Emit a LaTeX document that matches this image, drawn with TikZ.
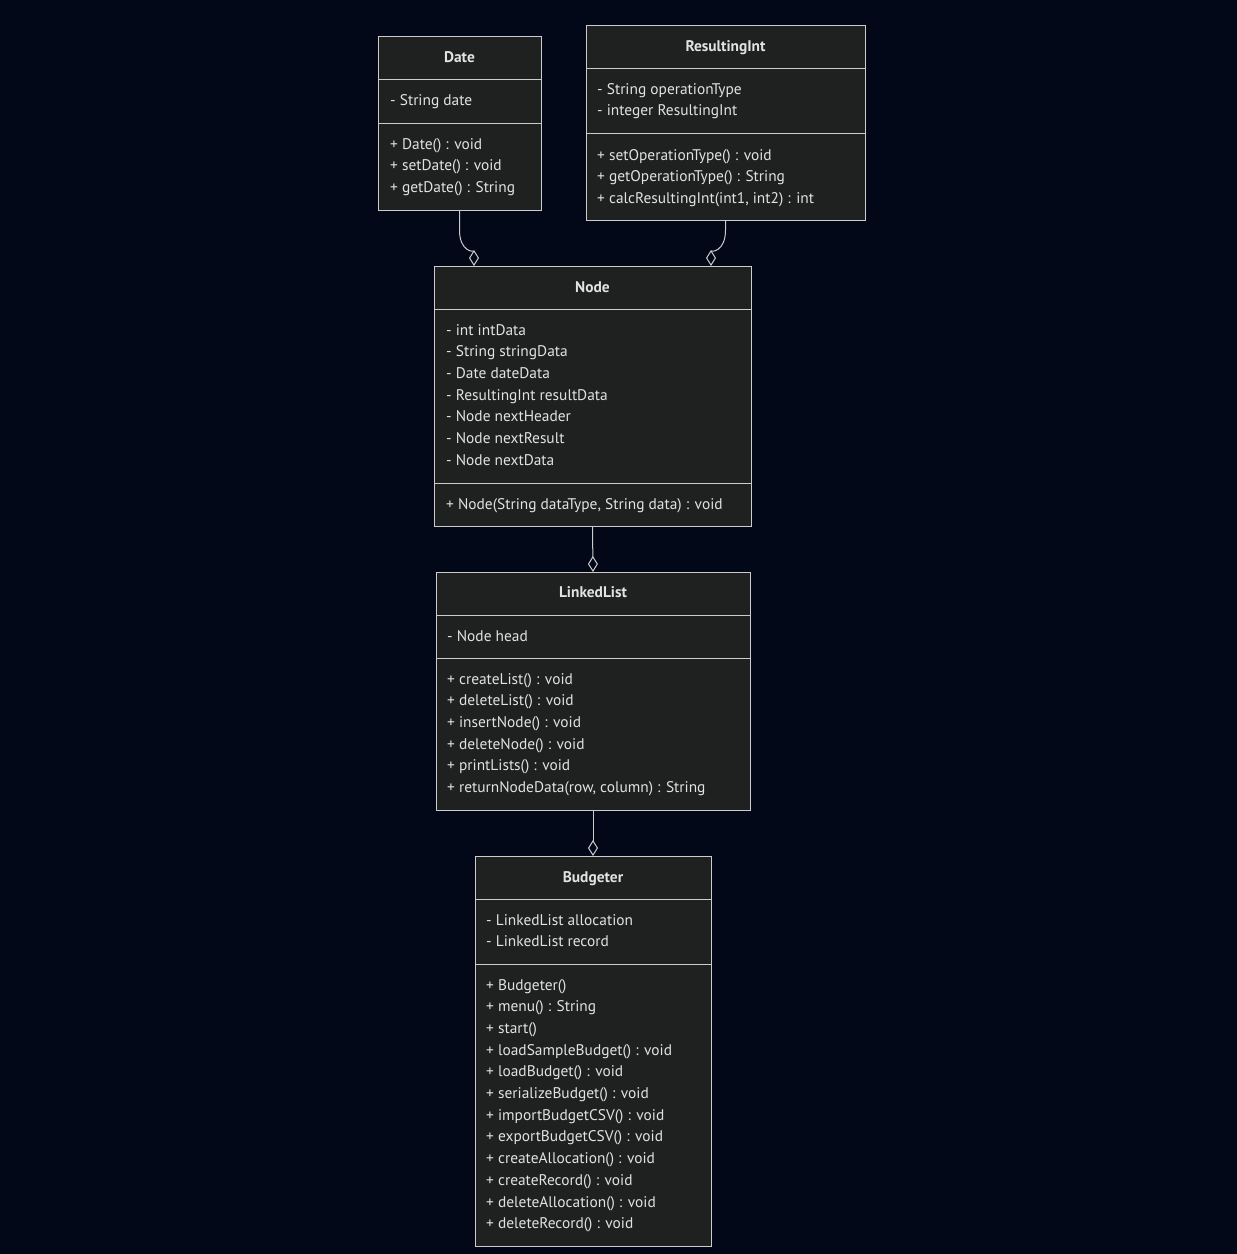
\documentclass[tikz,border=0pt]{standalone}
\usepackage{fontspec}
\setmainfont{PT Sans}
\usetikzlibrary{arrows.meta,calc}
\definecolor{bgc}{RGB}{2,8,23}
\definecolor{boxc}{RGB}{31,32,32}
\definecolor{linec}{RGB}{204,204,204}
\definecolor{txtc}{RGB}{226,226,226}
\tikzset{
  classbox/.style={draw=linec, fill=boxc, line width=1pt, inner sep=0pt, outer sep=0pt, anchor=north west},
  divline/.style={draw=linec, line width=1pt},
  rowtext/.style={anchor=mid west, inner sep=0pt, yshift=-2.5pt, text=txtc, font=\fontsize{15.4}{18}\selectfont},
  titletext/.style={anchor=mid, inner sep=0pt, yshift=-2.5pt, text=txtc, font=\fontsize{15.4}{18}\selectfont\bfseries},
  aggr/.style={draw=linec, line width=1pt, -{Diamond[open, length=16pt, width=10pt, line width=1pt]}}
}
\begin{document}
\begin{tikzpicture}[x=1pt,y=-1pt]
\useasboundingbox (0,0) rectangle (1237,1254);
\fill[bgc] (0,0) rectangle (1237,1254);

% Date
\node[classbox, minimum width=163pt, minimum height=174pt] (date) at (378,36) {};
\draw[divline] (378,79) -- (541,79);
\draw[divline] (378,123) -- (541,123);
\node[titletext] (dateT) at (459.5,57) {Date};
\foreach \t [count=\i] in {{- String date}}
  \node[rowtext] (dateA\i) at (390,{100+21.7*(\i-1)}) {\t};
\foreach \t [count=\i] in {{+ Date() : void},{+ setDate() : void},{+ getDate() : String}}
  \node[rowtext] (dateM\i) at (390,{144+21.7*(\i-1)}) {\t};

% ResultingInt
\node[classbox, minimum width=279pt, minimum height=195pt] (resint) at (586,25) {};
\draw[divline] (586,68) -- (865,68);
\draw[divline] (586,133) -- (865,133);
\node[titletext] (resintT) at (725.5,46) {ResultingInt};
\foreach \t [count=\i] in {{- String operationType},{- integer ResultingInt}}
  \node[rowtext] (resintA\i) at (597,{89+21.7*(\i-1)}) {\t};
\foreach \t [count=\i] in {{+ setOperationType() : void},{+ getOperationType() : String},{+ calcResultingInt(int1, int2) : int}}
  \node[rowtext] (resintM\i) at (597,{155+21.7*(\i-1)}) {\t};

% Node
\node[classbox, minimum width=317pt, minimum height=260pt] (nodec) at (434,266) {};
\draw[divline] (434,309) -- (751,309);
\draw[divline] (434,483) -- (751,483);
\node[titletext] (nodecT) at (592.5,287) {Node};
\foreach \t [count=\i] in {{- int intData},{- String stringData},{- Date dateData},{- ResultingInt resultData},{- Node nextHeader},{- Node nextResult},{- Node nextData}}
  \node[rowtext] (nodecA\i) at (446,{330+21.7*(\i-1)}) {\t};
\foreach \t [count=\i] in {{+ Node(String dataType, String data) : void}}
  \node[rowtext] (nodecM\i) at (446,{504+21.7*(\i-1)}) {\t};

% LinkedList
\node[classbox, minimum width=314pt, minimum height=238pt] (llist) at (436,572) {};
\draw[divline] (436,615) -- (750,615);
\draw[divline] (436,658) -- (750,658);
\node[titletext] (llistT) at (593,592) {LinkedList};
\foreach \t [count=\i] in {{- Node head}}
  \node[rowtext] (llistA\i) at (447,{636+21.7*(\i-1)}) {\t};
\foreach \t [count=\i] in {{+ createList() : void},{+ deleteList() : void},{+ insertNode() : void},{+ deleteNode() : void},{+ printLists() : void},{+ returnNodeData(row, column) : String}}
  \node[rowtext] (llistM\i) at (447,{679+21.7*(\i-1)}) {\t};

% Budgeter
\node[classbox, minimum width=236pt, minimum height=390pt] (budg) at (475,856) {};
\draw[divline] (475,899) -- (711,899);
\draw[divline] (475,964) -- (711,964);
\node[titletext] (budgT) at (593,877) {Budgeter};
\foreach \t [count=\i] in {{- LinkedList allocation},{- LinkedList record}}
  \node[rowtext] (budgA\i) at (486,{920+21.7*(\i-1)}) {\t};
\foreach \t [count=\i] in {{+ Budgeter()},{+ menu() : String},{+ start()},{+ loadSampleBudget() : void},{+ loadBudget() : void},{+ serializeBudget() : void},{+ importBudgetCSV() : void},{+ exportBudgetCSV() : void},{+ createAllocation() : void},{+ createRecord() : void},{+ deleteAllocation() : void},{+ deleteRecord() : void}}
  \node[rowtext] (budgM\i) at (486,{985+21.7*(\i-1)}) {\t};

% connectors
\coordinate (dA) at ($(nodec.north west)+(40,0)$);
\coordinate (rA) at ($(nodec.north west)+(277,0)$);
\draw[aggr] (date.south) -- ++(0,20) .. controls ++(0,22) and ($(dA)+(0,-14)$) .. (dA);
\draw[aggr] (resint.south) -- ++(0,10) .. controls ++(0,22) and ($(rA)+(0,-14)$) .. (rA);
\draw[aggr] (nodec.south) -- (llist.north);
\draw[aggr] (llist.south) -- (budg.north);
\end{tikzpicture}
\end{document}
